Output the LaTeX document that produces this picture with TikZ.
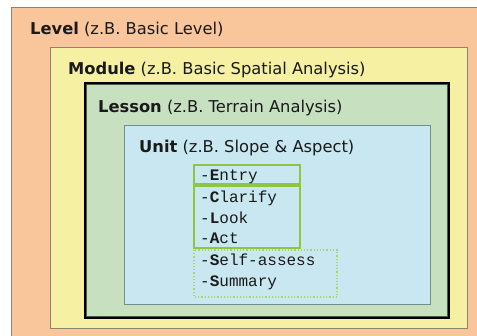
\documentclass[tikz,border=0pt]{standalone}
\usepackage{fontspec}
\setmainfont{DejaVu Sans}
\newfontfamily\monofnt{Liberation Mono}
\definecolor{cOrange}{HTML}{F9C59B}
\definecolor{cYellow}{HTML}{F6F0A2}
\definecolor{cGreen}{HTML}{C6E0C0}
\definecolor{cBlue}{HTML}{C8E7F0}
\definecolor{cEdge}{HTML}{8C8470}
\definecolor{cBlueEdge}{HTML}{6E8E92}
\definecolor{cLime}{HTML}{8DC63F}
\definecolor{cLimeDot}{HTML}{A6D46A}
\definecolor{cText}{HTML}{1A1A1A}
\definecolor{cInner}{HTML}{4A5A48}
\tikzset{
  x=1pt,y=-1pt,
  frame/.style={draw=cEdge,line width=0.8pt},
  hdr/.style={anchor=base west,inner sep=0pt,font=\fontsize{16.3}{19}\selectfont,text=cText},
  item/.style={anchor=base west,inner sep=0pt,font=\monofnt\fontsize{16}{21}\selectfont,text=cText},
  limebox/.style={draw=cLime,line width=1.6pt},
  dotbox/.style={draw=cLimeDot,line width=1.2pt,dotted}
}
\begin{document}
\begin{tikzpicture}
\useasboundingbox (0,0) rectangle (477,335);
\fill[white] (0,0) rectangle (477,335);
\draw[frame,fill=cOrange] (11,7) rectangle (485,345);
\draw[frame,fill=cYellow] (50,47) rectangle (467,328);
\draw[draw=black,line width=2.4pt,fill=cGreen] (85,83) rectangle (449,318);
\draw[draw=cInner,line width=1pt] (86.9,84.9) rectangle (447.1,316.1);
\draw[draw=cBlueEdge,line width=0.8pt,fill=cBlue] (124,125) rectangle (430,304);
\draw[limebox] (194,165) rectangle (300,184);
\draw[limebox] (194,186) rectangle (300,248);
\draw[dotbox] (194,250) rectangle (337,297);
\node[hdr] (level) at (30,34) {\textbf{Level} (z.B. Basic Level)};
\node[hdr] (module) at (68,74) {\textbf{Module} (z.B. Basic Spatial Analysis)};
\node[hdr] (lesson) at (98,112) {\textbf{Lesson} (z.B. Terrain Analysis)};
\node[hdr] (unit) at (139,152) {\textbf{Unit} (z.B. Slope \& Aspect)};
\node[item] (entry) at (200,180) {-\textbf{E}ntry};
\node[item] (clarify) at (200,202) {-\textbf{C}larify};
\node[item] (look) at (200,223) {-\textbf{L}ook};
\node[item] (act) at (200,243) {-\textbf{A}ct};
\node[item] (self) at (200,265) {-\textbf{S}elf-assess};
\node[item] (summary) at (200,286) {-\textbf{S}ummary};
\end{tikzpicture}
\end{document}
